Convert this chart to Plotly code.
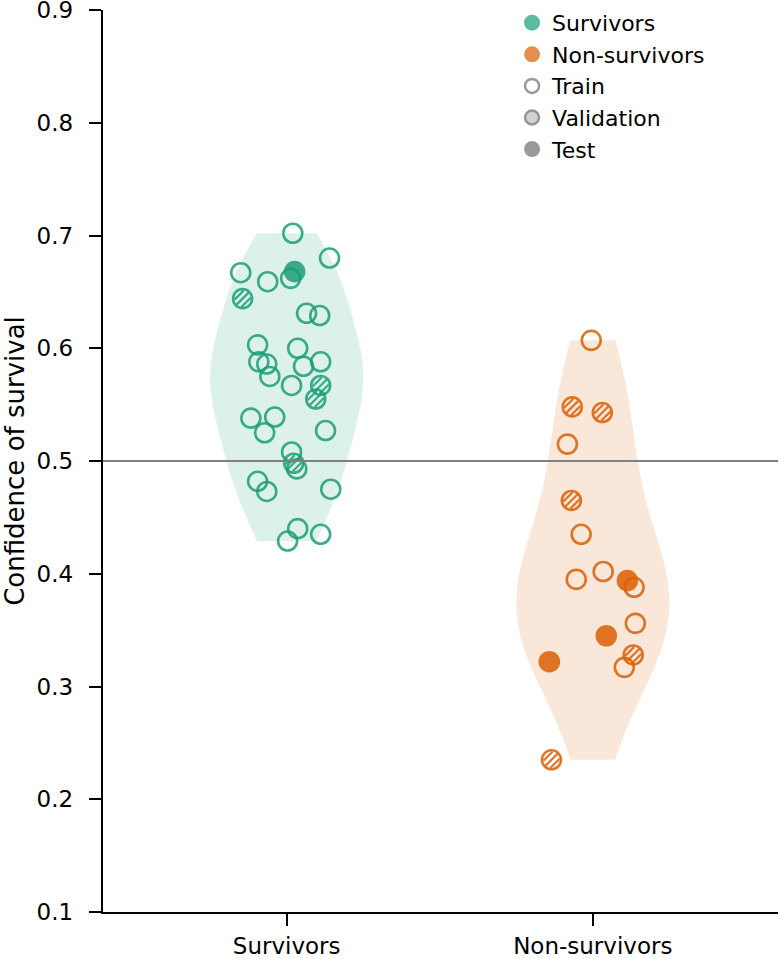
import numpy as np
import plotly.graph_objects as go

# ---------------- data ----------------
categories = ["Survivors", "Non-survivors"]
y_tick_vals = [0.1, 0.2, 0.3, 0.4, 0.5, 0.6, 0.7, 0.8, 0.9]
threshold = 0.5

surv_conf = [0.702, 0.667, 0.659, 0.662, 0.668, 0.680, 0.644, 0.631, 0.629, 0.603,
             0.600, 0.588, 0.586, 0.588, 0.584, 0.575, 0.567, 0.567, 0.555, 0.538,
             0.539, 0.527, 0.525, 0.508, 0.498, 0.493, 0.482, 0.473, 0.475, 0.440,
             0.435, 0.429]
surv_jitter = [0.020, -0.150, -0.062, 0.013, 0.026, 0.140, -0.144, 0.065, 0.108, -0.095,
               0.036, -0.091, -0.065, 0.111, 0.055, -0.055, 0.016, 0.111, 0.095, -0.117,
               -0.039, 0.127, -0.072, 0.016, 0.023, 0.033, -0.095, -0.065, 0.144, 0.036,
               0.111, 0.003]
surv_split = ["train", "train", "train", "train", "test", "train", "val", "train", "train", "train",
              "train", "train", "train", "train", "train", "train", "train", "val", "val", "train",
              "train", "train", "train", "train", "val", "train", "train", "train", "train", "train",
              "train", "train"]

nonsurv_conf = [0.607, 0.548, 0.543, 0.515, 0.465, 0.435, 0.395, 0.402, 0.394, 0.388,
                0.356, 0.345, 0.328, 0.317, 0.322, 0.235]
nonsurv_jitter = [-0.005, -0.067, 0.031, -0.083, -0.070, -0.038, -0.054, 0.034, 0.113, 0.135,
                  0.139, 0.044, 0.132, 0.103, -0.142, -0.135]
nonsurv_split = ["train", "val", "val", "train", "val", "train", "train", "train", "test", "train",
                 "train", "test", "val", "train", "test", "val"]

# ---------------- layout constants ----------------
W, H = 780, 959
ML, MR, MT, MB = 103, 2, 10, 47
XR = [-0.6, 1.605]
YR = [0.1, 0.9]
px_per_x = (W - ML - MR) / (XR[1] - XR[0])
px_per_y = (H - MT - MB) / (YR[1] - YR[0])

FONT = "DejaVu Sans"
TICK_FS = 23
LEGEND_FS = 22
TITLE_FS = 26
GREEN = (27, 158, 119)
ORANGE = (217, 95, 2)
GRAY = (128, 128, 128)


def rgba(c, a):
    return f"rgba({c[0]},{c[1]},{c[2]},{a})"


MK_ALPHA = 0.85
RING_SIZE = 19
RING_W = 2.6

fig = go.Figure()

groups = [
    (0, surv_conf, surv_jitter, surv_split, GREEN),
    (1, nonsurv_conf, nonsurv_jitter, nonsurv_split, ORANGE),
]

# violins
for pos, conf, jit, split, col in groups:
    fig.add_trace(go.Violin(
        x=[pos] * len(conf), y=conf,
        width=0.5, scalemode="width", spanmode="hard",
        fillcolor=rgba(col, 0.15), line=dict(width=0, color="rgba(0,0,0,0)"),
        points=False, showlegend=False, hoverinfo="skip",
    ))

# points
stripe_off = 5.0 / np.sqrt(2)  # px offset of side stripes
for pos, conf, jit, split, col in groups:
    conf = np.array(conf)
    xs = pos + np.array(jit)
    split = np.array(split)
    c = rgba(col, MK_ALPHA)
    for kind in ["train", "val", "test"]:
        m = split == kind
        if not m.any():
            continue
        if kind in ("train", "val"):
            fig.add_trace(go.Scatter(
                x=xs[m], y=conf[m], mode="markers", showlegend=False, hoverinfo="skip",
                marker=dict(symbol="circle-open", size=RING_SIZE,
                            color=c, line=dict(width=RING_W, color=c)),
            ))
        if kind == "test":
            fig.add_trace(go.Scatter(
                x=xs[m], y=conf[m], mode="markers", showlegend=False, hoverinfo="skip",
                marker=dict(symbol="circle", size=RING_SIZE + RING_W, color=c,
                            line=dict(width=0)),
            ))
        if kind == "val":
            dx = stripe_off / px_per_x
            dy = stripe_off / px_per_y
            for sx, sy, sz in [(0, 0, 12), (dx, -dy, 9), (-dx, dy, 9)]:
                fig.add_trace(go.Scatter(
                    x=xs[m] + sx, y=conf[m] + sy, mode="markers", showlegend=False,
                    hoverinfo="skip",
                    marker=dict(symbol="line-ne", size=sz, color=c,
                                line=dict(width=2.2, color=c)),
                ))

# legend entries
legend_items = [
    ("Survivors", dict(symbol="circle", size=16, color=rgba(GREEN, 0.7), line=dict(width=0))),
    ("Non-survivors", dict(symbol="circle", size=16, color=rgba(ORANGE, 0.7), line=dict(width=0))),
    ("Train", dict(symbol="circle-open", size=14, color=rgba(GRAY, 0.8),
                   line=dict(width=2.5, color=rgba(GRAY, 0.8)))),
    ("Validation", dict(symbol="circle", size=14, color=rgba(GRAY, 0.35),
                        line=dict(width=2.5, color=rgba(GRAY, 0.8)))),
    ("Test", dict(symbol="circle", size=16, color=rgba(GRAY, 0.8), line=dict(width=0))),
]
for i, (name, mk) in enumerate(legend_items):
    fig.add_trace(go.Scatter(x=[None], y=[None], mode="markers", name=name,
                             marker=mk, showlegend=True))

fig.add_shape(type="line", xref="paper", x0=0, x1=1, yref="y", y0=threshold, y1=threshold,
              line=dict(color="rgb(128,128,128)", width=2.2), layer="above")

axis_common = dict(showline=True, linecolor="black", linewidth=2.4, ticks="outside",
                   ticklen=12, tickwidth=2.4, tickcolor="black", showgrid=False,
                   zeroline=False, ticklabeloverflow="allow",
                   tickfont=dict(family=FONT, size=TICK_FS, color="black"))

fig.update_layout(
    width=W, height=H,
    margin=dict(l=ML, r=MR, t=MT, b=MB, autoexpand=False),
    paper_bgcolor="white", plot_bgcolor="white",
    violinmode="overlay",
    font=dict(family=FONT, size=TICK_FS, color="black"),
    xaxis=dict(range=XR, tickvals=[0, 1], ticktext=categories, ticklabelstandoff=0,
               **axis_common),
    yaxis=dict(range=YR, tickvals=y_tick_vals,
               ticktext=[f"{v:.1f}" for v in y_tick_vals], ticklabelstandoff=11,
               title=dict(text="Confidence of survival", standoff=18,
                          font=dict(family=FONT, size=TITLE_FS, color="black")),
               **axis_common),
    legend=dict(x=0.606, y=1.009, xanchor="left", yanchor="top", traceorder="normal",
                font=dict(family=FONT, size=LEGEND_FS, color="black"),
                bgcolor="rgba(0,0,0,0)", itemsizing="trace"),
)

fig.write_html("out.html", config={"displayModeBar": False},
               post_script="document.body.style.margin='0px';document.body.style.padding='0px';")
